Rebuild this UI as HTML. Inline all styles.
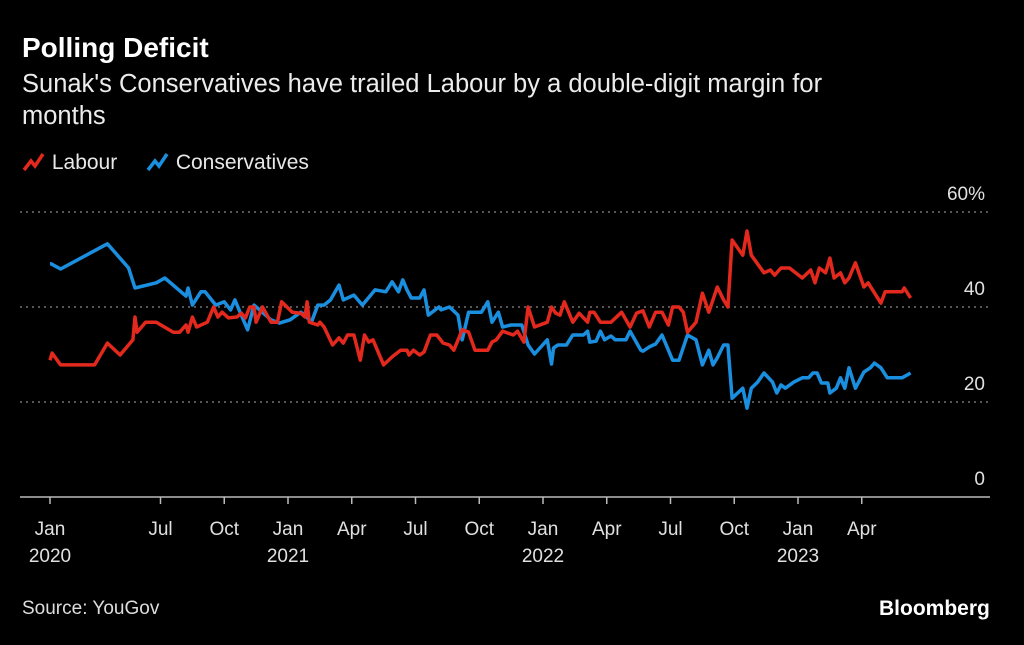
<!DOCTYPE html>
<html><head><meta charset="utf-8"><style>
html,body{margin:0;padding:0;background:#000;}
body{width:1024px;height:645px;position:relative;overflow:hidden;font-family:"Liberation Sans",sans-serif;color:#e8e8e8;}
.t{position:absolute;white-space:nowrap;}
</style></head><body>
<div class="t" style="left:22px;top:32px;font-size:28px;font-weight:bold;color:#fff;">Polling Deficit</div>
<div class="t" style="left:22px;top:68px;font-size:25.5px;line-height:32px;white-space:normal;width:860px;color:#ececec;">Sunak's Conservatives have trailed Labour by a double-digit margin for months</div>
<div class="t" style="left:22px;top:151px;font-size:21px;"><svg width="24" height="22" style="vertical-align:-4px"><polyline points="2,19 9,10 13,15 21,3" fill="none" stroke="#e3281d" stroke-width="3.5"/></svg> Labour</div>
<div class="t" style="left:146px;top:151px;font-size:21px;"><svg width="24" height="22" style="vertical-align:-4px"><polyline points="2,19 9,10 13,15 21,3" fill="none" stroke="#1a8fe0" stroke-width="3.5"/></svg> Conservatives</div>
<svg id="chart" width="1024" height="645" style="position:absolute;left:0;top:0"></svg>
<div class="t" style="left:22px;top:598px;font-size:19px;color:#ddd;">Source: YouGov</div>
<div class="t" style="left:879px;top:597px;font-size:21px;font-weight:bold;color:#fff;">Bloomberg</div>
<script>
const conM=[0,0.05,0.5,2.7,3.7,4.0,5.0,5.4,6.4,6.5,6.7,7.1,7.3,7.8,8.2,8.5,8.7,8.9,9.3,9.6,10.4,10.8,11.3,11.8,12.0,12.3,12.6,12.9,13.2,13.6,13.8,14.3,14.7,15.3,15.8,16.1,16.4,16.6,16.8,17.0,17.4,17.6,17.8,18.3,18.4,18.8,19.2,19.4,19.7,20.3,20.6,20.8,21.1,21.3,21.7,22.2,22.5,22.8,23.4,23.6,23.7,23.9,24.3,24.6,25.1,25.3,25.4,25.7,25.9,26.1,26.4,26.6,27.1,27.3,27.8,27.9,28.2,28.5,28.8,29.3,29.6,30.0,30.4,30.7,31.0,31.2,31.4,31.7,31.9,32.1,32.6,32.8,33.0,33.3,33.6,34.0,34.2,34.4,34.6,35.0,35.4,35.7,35.9,36.1,36.3,36.6,36.7,37.0,37.2,37.4,37.6,37.9,38.3,38.6,38.8,39.1,39.4,40.1,40.5];
const conV=[49.1,49.1,48.0,53.3,48.2,44.0,45.1,46.1,42.3,44.0,40.4,43.2,43.2,40.4,41.1,39.4,41.5,39.4,35.2,40.4,37.3,36.6,37.3,38.9,38.3,36.8,40.4,40.4,41.5,44.6,41.5,42.5,40.4,43.6,43.2,45.3,43.2,45.7,43.6,41.9,41.9,43.6,38.3,40.0,39.4,40.0,38.3,33.1,38.9,38.9,41.1,36.8,38.9,35.8,36.2,36.2,32.0,30.1,33.1,28.0,31.4,32.0,32.0,34.1,34.1,34.9,32.6,32.8,34.9,33.1,33.9,33.1,33.1,34.9,30.9,30.7,31.6,32.2,34.1,28.8,28.8,34.1,33.1,27.8,30.9,27.8,29.3,32.0,32.0,20.8,22.9,18.7,22.9,24.2,26.1,24.2,21.9,23.6,22.9,24.2,25.1,25.1,26.1,26.1,24.0,24.0,21.9,22.9,25.1,22.9,27.2,22.9,26.3,27.2,28.2,27.2,25.1,25.1,26.1];
const labM=[0,0.1,0.5,2.1,2.7,3.3,3.9,4.0,4.1,4.5,5.0,5.8,6.1,6.4,6.5,6.7,6.9,7.4,7.7,7.9,8.1,8.4,8.8,9.0,9.2,9.4,9.6,9.7,10.0,10.4,10.7,10.9,11.4,11.8,12.0,12.1,12.2,12.6,12.7,12.9,13.3,13.6,13.8,14.0,14.3,14.6,14.8,15.0,15.2,15.7,16.1,16.5,16.8,16.9,17.1,17.4,17.6,17.9,18.2,18.5,18.8,19.0,19.4,19.7,20.0,20.6,20.8,21.0,21.3,21.8,22.0,22.3,22.5,22.8,23.4,23.6,23.8,24.0,24.2,24.6,24.9,25.3,25.4,25.6,25.9,26.4,26.9,27.3,27.6,27.9,28.2,28.5,28.8,29.1,29.3,29.6,29.8,30.0,30.4,30.7,31.0,31.4,31.7,31.9,32.1,32.6,32.8,33.0,33.6,33.9,34.1,34.4,34.8,35.4,35.8,36.0,36.2,36.5,36.7,36.9,37.2,37.4,37.6,37.9,38.3,38.5,39.1,39.3,40.1,40.2,40.5];
const labV=[28.8,30.3,27.8,27.8,32.4,29.9,33.1,37.9,34.7,36.8,36.8,34.7,34.7,36.2,34.7,37.9,35.8,36.8,40.0,37.9,38.9,37.7,37.9,38.7,37.7,40.0,40.0,36.8,40.0,36.8,36.8,41.1,38.9,38.7,37.9,41.1,36.8,36.2,36.8,35.8,32.0,33.5,32.4,34.1,34.1,28.8,34.1,32.6,33.1,27.8,29.5,30.9,30.9,29.9,30.9,29.9,30.5,34.1,34.1,32.4,32.0,30.9,35.2,34.7,30.9,30.9,32.6,33.1,34.9,34.1,34.9,32.6,40.0,35.8,36.8,40.0,38.7,38.3,41.1,36.8,38.7,36.8,38.9,38.9,36.8,36.8,38.9,35.8,38.7,39.2,35.8,38.9,38.9,36.2,40.0,40.0,38.9,34.7,36.8,42.9,38.9,44.2,41.5,40.0,54.1,50.9,56.0,50.9,47.2,47.8,46.7,48.2,48.2,46.1,47.8,45.1,48.2,47.2,50.3,46.1,47.2,45.1,46.1,49.3,44.2,45.1,40.8,43.2,43.2,44.0,41.9];
const yTicks=[0,20,40,60];
const yTickLabels=["0","20","40","60%"];
const xTickM=[0,5.2,8.2,11.2,14.2,17.2,20.2,23.2,26.2,29.2,32.2,35.2,38.2];
const xTickLabels=["Jan","Jul","Oct","Jan","Apr","Jul","Oct","Jan","Apr","Jul","Oct","Jan","Apr"];
const xYearLabels=["2020","","","2021","","","","2022","","","","2023",""];

const NS="http://www.w3.org/2000/svg";
const svg=document.getElementById('chart');
const X=m=>50+m*21.25;
const Y=v=>497-v*4.75;
function mk(tag,attrs){const e=document.createElementNS(NS,tag);for(const k in attrs)e.setAttribute(k,attrs[k]);svg.appendChild(e);return e;}
yTicks.forEach((v,i)=>{
  if(v>0){const g=mk('line',{x1:20,x2:990,y1:Y(v),y2:Y(v),stroke:'#8a8a8a','stroke-width':1.3,'stroke-dasharray':'2,4'});
  
  }
  const t=mk('text',{x:985,y:Y(v)-12,'text-anchor':'end','font-size':19,fill:'#e0e0e0','font-family':'Liberation Sans, sans-serif'});
  t.textContent=yTickLabels[i];
  
  
});
const ax=mk('line',{x1:20,x2:990,y1:497,y2:497,stroke:'#bbb','stroke-width':1.5});


xTickM.forEach((m,i)=>{
  const tk=mk('line',{x1:X(m),x2:X(m),y1:497,y2:504,stroke:'#bbb','stroke-width':1.5});
  
  
  const t=mk('text',{x:X(m),y:535,'text-anchor':'middle','font-size':19,fill:'#e0e0e0','font-family':'Liberation Sans, sans-serif'});
  t.textContent=xTickLabels[i];
  
  
  if(xYearLabels[i]){const y=mk('text',{x:X(m),y:562,'text-anchor':'middle','font-size':19,fill:'#e0e0e0','font-family':'Liberation Sans, sans-serif'});
  y.textContent=xYearLabels[i];
  
  }
});
function line(ms,vs,col,name){
  const p=mk('polyline',{points:ms.map((m,i)=>X(m).toFixed(1)+','+Y(vs[i]).toFixed(1)).join(' '),fill:'none',stroke:col,'stroke-width':3.5,'stroke-linejoin':'round'});
  
  
}
line(conM,conV,'#1a8fe0','conservatives-line');
line(labM,labV,'#e3281d','labour-line');
</script>
</body></html>
